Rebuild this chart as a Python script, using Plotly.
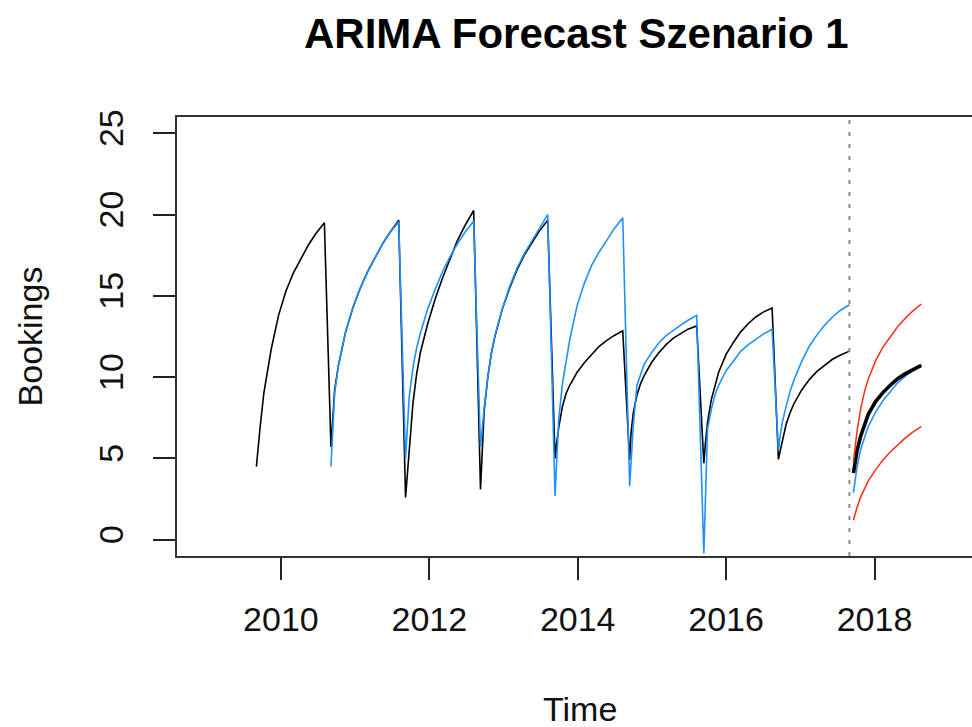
import plotly.graph_objects as go

# ---- data ----
season_start = [2009.67, 2010.675, 2011.68, 2012.69, 2013.695, 2014.70, 2015.70, 2016.705]
season_end = [2010.586, 2011.588, 2012.598, 2013.596, 2014.607, 2015.604, 2016.62, 2017.662]
# sampling positions within a season (fraction of the season)
season_frac = [0, 0.022, 0.054, 0.109, 0.163, 0.217, 0.326, 0.435, 0.543, 0.652, 0.761, 0.870, 1.0]

actual_s1 = [4.5, 5.6, 6.9, 9.0, 10.5, 11.7, 13.8, 15.3, 16.4, 17.3, 18.1, 18.8, 19.5]
actual_s2 = [5.7, 7.4, 9.2, 10.7, 11.8, 12.8, 14.3, 15.5, 16.5, 17.4, 18.2, 18.9, 19.65]
actual_s3 = [2.6, 3.9, 5.6, 8.4, 10.2, 11.5, 13.3, 14.8, 16.1, 17.3, 18.4, 19.3, 20.25]
actual_s4 = [3.1, 5.0, 7.9, 10.0, 11.5, 12.55, 14.2, 15.5, 16.6, 17.5, 18.25, 18.95, 19.65]
actual_s5 = [5.0, 5.9, 6.9, 8.2, 9.0, 9.5, 10.3, 10.9, 11.4, 11.9, 12.25, 12.55, 12.85]
actual_s6 = [4.9, 6.6, 7.8, 8.9, 9.6, 10.1, 10.9, 11.5, 12.0, 12.4, 12.7, 12.95, 13.15]
actual_s7 = [4.7, 5.9, 7.2, 8.6, 9.5, 10.3, 11.4, 12.15, 12.8, 13.3, 13.7, 14.0, 14.25]
actual_s8 = [4.94, 5.4, 6.1, 7.1, 7.8, 8.35, 9.2, 9.85, 10.35, 10.75, 11.1, 11.35, 11.6]

fitted_s2 = [4.5, 6.8, 9.0, 10.7, 11.8, 12.8, 14.3, 15.5, 16.5, 17.4, 18.2, 18.9, 19.55]
fitted_s3 = [5.0, 6.8, 8.8, 10.6, 11.8, 12.7, 14.2, 15.4, 16.5, 17.4, 18.2, 18.9, 19.6]
fitted_s4 = [5.7, 6.9, 8.1, 10.0, 11.5, 12.6, 14.2, 15.6, 16.7, 17.6, 18.35, 19.1, 20.0]
fitted_s5 = [2.7, 5.0, 7.4, 9.6, 11.1, 12.3, 14.4, 15.8, 16.9, 17.7, 18.4, 19.1, 19.8]
fitted_s6 = [3.3, 4.8, 7.0, 9.5, 10.2, 10.8, 11.5, 12.1, 12.55, 12.9, 13.2, 13.5, 13.8]
fitted_s7 = [-0.85, 2.3, 6.8, 8.0, 8.9, 9.5, 10.4, 11.0, 11.6, 12.0, 12.35, 12.65, 12.95]
fitted_s8 = [5.5, 6.3, 7.2, 8.2, 9.1, 9.8, 10.95, 11.9, 12.6, 13.2, 13.7, 14.1, 14.45]

forecast_start = 2017.716
forecast_end = 2018.63
forecast_mean = [4.1, 4.8, 5.5, 6.4, 7.1, 7.7, 8.5, 9.05, 9.5, 9.9, 10.2, 10.45, 10.72]
forecast_upper = [4.8, 5.7, 6.7, 8.1, 9.1, 9.85, 11.0, 11.85, 12.5, 13.1, 13.6, 14.05, 14.5]
forecast_lower = [1.2, 1.55, 2.0, 2.65, 3.15, 3.6, 4.3, 4.9, 5.4, 5.85, 6.25, 6.6, 6.95]
forecast_fitted = [2.9, 3.6, 4.5, 5.6, 6.3, 6.95, 7.85, 8.55, 9.1, 9.65, 10.05, 10.4, 10.7]

split_time = 2017.662
x_ticks = [2010, 2012, 2014, 2016, 2018]
y_ticks = [0, 5, 10, 15, 20, 25]

actual_seasons = [actual_s1, actual_s2, actual_s3, actual_s4, actual_s5, actual_s6, actual_s7, actual_s8]
fitted_seasons = [None, fitted_s2, fitted_s3, fitted_s4, fitted_s5, fitted_s6, fitted_s7, fitted_s8]


def season_times(start, end):
    return [start + f * (end - start) for f in season_frac]


ax, ay, fx, fy = [], [], [], []
for i in range(len(season_start)):
    t = season_times(season_start[i], season_end[i])
    ax += t
    ay += actual_seasons[i]
    if fitted_seasons[i] is not None:
        fx += t
        fy += fitted_seasons[i]

tf = season_times(forecast_start, forecast_end)

BLUE = "#1E90FF"
RED = "#FF2A1A"
FONT = "Liberation Sans, Arial, Helvetica, sans-serif"

fig = go.Figure()
fig.add_trace(go.Scatter(x=ax, y=ay, mode="lines", line=dict(color="black", width=1.6)))
fig.add_trace(go.Scatter(x=fx, y=fy, mode="lines", line=dict(color=BLUE, width=1.6)))
fig.add_trace(go.Scatter(x=tf, y=forecast_fitted, mode="lines", line=dict(color=BLUE, width=1.6)))
fig.add_trace(go.Scatter(x=tf, y=forecast_mean, mode="lines", line=dict(color="black", width=3.6)))
fig.add_trace(go.Scatter(x=tf, y=forecast_upper, mode="lines", line=dict(color=RED, width=1.5)))
fig.add_trace(go.Scatter(x=tf, y=forecast_lower, mode="lines", line=dict(color=RED, width=1.5)))

fig.add_shape(type="line", xref="x", yref="paper", x0=split_time, x1=split_time, y0=0, y1=1,
              line=dict(color="#8c8c8c", width=2, dash="4px,8px"))

fig.update_layout(
    width=972, height=727,
    margin=dict(l=177, r=0, t=117, b=171),
    plot_bgcolor="white", paper_bgcolor="white",
    showlegend=False,
    font=dict(family=FONT, size=34, color="#111"),
    xaxis=dict(range=[2008.6, 2019.314], tickvals=x_ticks, ticktext=[str(v) for v in x_ticks],
               showgrid=False, zeroline=False, showline=True, mirror=True,
               linecolor="#333", linewidth=2, ticks="outside", ticklen=22, tickwidth=1.6,
               tickcolor="#222", ticklabelstandoff=10, tickfont=dict(size=34)),
    yaxis=dict(range=[-1, 26], tickvals=y_ticks, ticktext=[str(v) for v in y_ticks],
               showgrid=False, zeroline=False, showline=True, mirror=False,
               linecolor="#333", linewidth=2, ticks="outside", ticklen=22, tickwidth=1.6,
               tickcolor="#222", tickangle=-90, ticklabelstandoff=16, tickfont=dict(size=34)),
    annotations=[
        dict(text="<b>ARIMA Forecast Szenario 1</b>", xref="paper", yref="paper", x=0.502, y=1.191,
             xanchor="center", yanchor="middle", showarrow=False, font=dict(size=42, color="black")),
        dict(text="Time", xref="paper", yref="paper", x=0.507, y=-0.349,
             xanchor="center", yanchor="middle", showarrow=False, font=dict(size=34)),
        dict(text="Bookings", xref="paper", yref="paper", x=-0.185, y=0.5, textangle=-90,
             xanchor="center", yanchor="middle", showarrow=False, font=dict(size=34)),
    ],
)

fig.write_html("out.html", config={"displayModeBar": False},
               post_script="document.body.style.margin='0';document.body.style.overflow='hidden';")
